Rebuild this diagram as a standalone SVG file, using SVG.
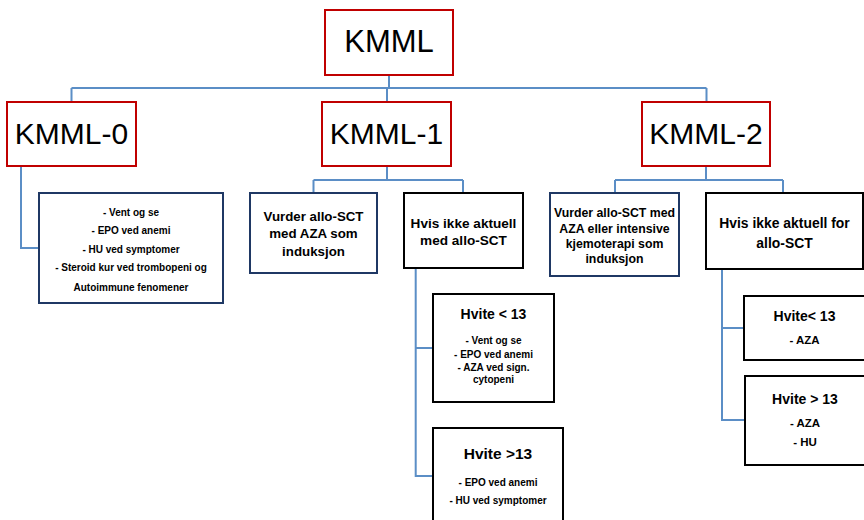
<svg xmlns="http://www.w3.org/2000/svg" width="864" height="520" viewBox="0 0 864 520">
<style>
text{font-family:"Liberation Sans",Arial,sans-serif;text-anchor:middle;fill:#000}
.big{font-size:31px}
.mid{font-size:30px}
.b{font-weight:bold}
.red{fill:#fff;stroke:#c00000;stroke-width:2}
.navy{fill:#fff;stroke:#1f3864;stroke-width:2}
.blk{fill:#fff;stroke:#000;stroke-width:2}
.con{fill:none;stroke:#5b8ec6;stroke-width:2}
</style>
<rect width="864" height="520" fill="#fff"/>
<g id="connectors">
<path class="con" d="M389 75V88M71.5 88H706.5M71.5 88V102M387 88V102M706.5 88V102"/>
<path class="con" d="M21 166V248H39"/>
<path class="con" d="M387 166V180M313.5 180H463M313.5 180V193M463 180V193"/>
<path class="con" d="M706 166V180M615 180H783M615 180V193M783 180V193"/>
<path class="con" d="M415.7 268V476H433M415.7 348H433"/>
<path class="con" d="M722 269V420H745M722 328H744"/>
</g>
<g id="kmml"><rect class="red" x="325" y="10" width="128" height="65"/><text class="big" x="389" y="52">KMML</text></g>
<g id="kmml0"><rect class="red" x="7" y="102" width="129" height="64"/><text class="mid" x="71.5" y="144">KMML-0</text></g>
<g id="kmml1"><rect class="red" x="322" y="102" width="129" height="64"/><text class="mid" x="386.5" y="144">KMML-1</text></g>
<g id="kmml2"><rect class="red" x="642" y="102" width="128" height="64"/><text class="mid" x="706" y="144">KMML-2</text></g>
<g id="k0-tiltak" class="b" font-size="10"><rect class="navy" x="39" y="193" width="184" height="110"/>
<text x="131" y="215.5">- Vent og se</text>
<text x="131" y="233.5">- EPO ved anemi</text>
<text x="131" y="252.5">- HU ved symptomer</text>
<text x="131" y="270.5">- Steroid kur ved trombopeni og</text>
<text x="131" y="290.5">Autoimmune fenomener</text></g>
<g id="k1-allo" class="b" font-size="13.3"><rect class="navy" x="250" y="193" width="127" height="80"/>
<text x="313.5" y="221">Vurder allo-SCT</text>
<text x="313.5" y="238">med AZA som</text>
<text x="313.5" y="256">induksjon</text></g>
<g id="k1-ikke" class="b" font-size="13.6"><rect class="blk" x="404" y="193" width="119" height="75"/>
<text x="463.5" y="228">Hvis ikke aktuell</text>
<text x="463.5" y="245">med allo-SCT</text></g>
<g id="k1-lav" class="b" font-size="10"><rect class="blk" x="433" y="294" width="121" height="108"/>
<text x="493.5" y="319" font-size="14">Hvite &lt; 13</text>
<text x="493.5" y="344">- Vent og se</text>
<text x="493.5" y="357.5">- EPO ved anemi</text>
<text x="493.5" y="371">- AZA ved sign.</text>
<text x="493.5" y="383">cytopeni</text></g>
<g id="k1-hoy" class="b" font-size="10"><rect class="blk" x="433" y="428" width="130" height="96"/>
<text x="498" y="458.5" font-size="15.5">Hvite &gt;13</text>
<text x="498" y="485.5">- EPO ved anemi</text>
<text x="498" y="503.5">-  HU ved symptomer</text></g>
<g id="k2-allo" class="b" font-size="12.3"><rect class="navy" x="550" y="193" width="129" height="83"/>
<text x="614.5" y="217">Vurder allo-SCT med</text>
<text x="614.5" y="233">AZA eller intensive</text>
<text x="614.5" y="248">kjemoterapi som</text>
<text x="614.5" y="263">induksjon</text></g>
<g id="k2-ikke" class="b" font-size="13.9"><rect class="blk" x="706" y="193" width="157" height="76"/>
<text x="784.5" y="228">Hvis ikke aktuell for</text>
<text x="784.5" y="248">allo-SCT</text></g>
<g id="k2-lav" class="b" font-size="11.5"><rect class="blk" x="744" y="296" width="122" height="64"/>
<text x="804.5" y="321" font-size="14">Hvite&lt; 13</text>
<text x="804.5" y="344">- AZA</text></g>
<g id="k2-hoy" class="b" font-size="11.5"><rect class="blk" x="745" y="376" width="121" height="89"/>
<text x="805" y="404" font-size="14">Hvite &gt; 13</text>
<text x="805" y="427">- AZA</text>
<text x="805" y="446">- HU</text></g>
</svg>
